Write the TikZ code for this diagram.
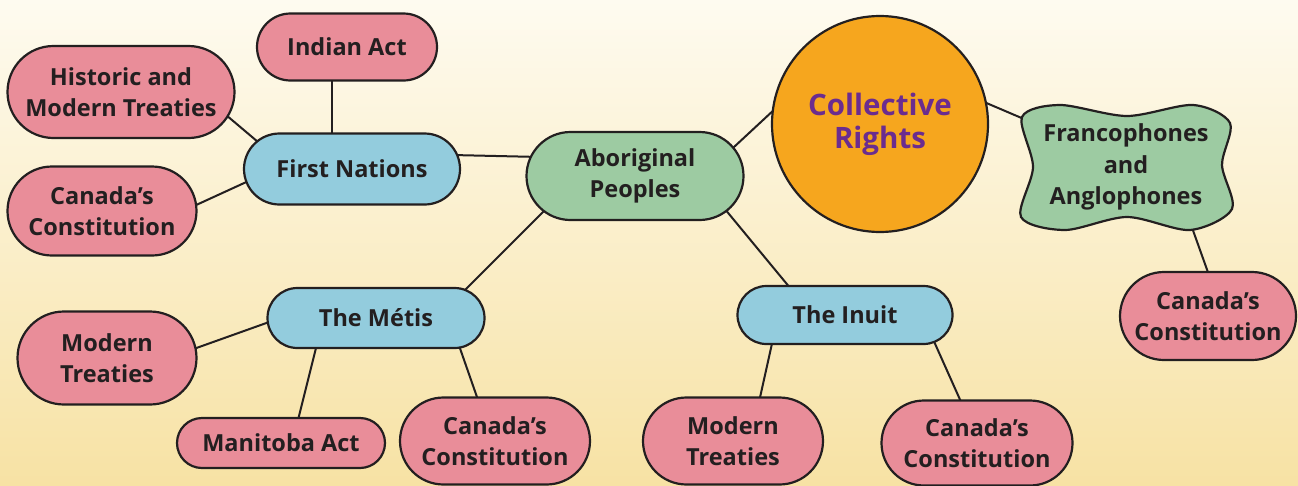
\documentclass[tikz,border=0pt]{standalone}
\usepackage{fontspec}
\setmainfont{Open Sans}
\usetikzlibrary{shapes.misc,backgrounds,calc,positioning}
\pgfdeclarelayer{edges}
\pgfsetlayers{background,edges,main}
\definecolor{inkdark}{HTML}{231F20}
\definecolor{boxpink}{HTML}{E98D99}
\definecolor{boxblue}{HTML}{93CCDD}
\definecolor{boxgreen}{HTML}{9DCBA2}
\definecolor{ballorange}{HTML}{F6A61E}
\definecolor{rightspurple}{HTML}{6B2C8F}
\definecolor{bgtop}{HTML}{FEFBF0}
\definecolor{bgbottom}{HTML}{F7E2A4}
\tikzset{
  lbl/.style={font=\bfseries\fontsize{23.5}{31.5}\selectfont, text=inkdark, align=center},
  pill/.style={lbl, rounded rectangle, draw=inkdark, line width=2.2pt, inner sep=0pt},
  pinkbox/.style={pill, fill=boxpink},
  bluebox/.style={pill, fill=boxblue},
  greenbox/.style={pill, fill=boxgreen},
  link/.style={draw=inkdark, line width=2pt}
}
\begin{document}
\begin{tikzpicture}[x=1pt,y=-1pt]
% Hintergrund mit Verlauf
\begin{pgfonlayer}{background}
  \shade[top color=bgtop, bottom color=bgbottom] (0,0) rectangle (1298,485);
\end{pgfonlayer}
\useasboundingbox (0,0) rectangle (1298,485);
% Mitte
\node[greenbox, minimum width=217pt, minimum height=88pt] (abor) at (635,176) {Aboriginal\\Peoples};
\node[circle, draw=inkdark, line width=2.2pt, fill=ballorange, minimum size=216pt,
      font=\bfseries\fontsize{29.5}{33}\selectfont, text=rightspurple, align=center] (coll) at (880,124) {Collective\\Rights};
% Gruppen
\node[bluebox, minimum width=216pt, minimum height=71pt] (firstnat) at (352,169) {First Nations};
\node[bluebox, minimum width=217pt, minimum height=60pt] (metis) at (376,318) {The Métis};
\node[bluebox, minimum width=215pt, minimum height=58pt] (inuit) at (845,315) {The Inuit};
% Francophones und Anglophones (gewellte Form)
\coordinate (fc) at (1126,167);
\draw[inkdark, line width=2.2pt, fill=boxgreen, shift={(fc)}]
  plot[smooth cycle, tension=0.5] coordinates {(-104,-50) (-66,-62) (1,-51) (67,-62) (104,-44) (96,-2)
    (106,42) (64,63) (1,50) (-61,63) (-105,50) (-93,0)};
\node[lbl] (franco) at (fc) {Francophones\\and\\Anglophones};
% Blätter
\node[pinkbox, minimum width=180pt, minimum height=67pt] (indian) at (347,47) {Indian Act};
\node[pinkbox, minimum width=227pt, minimum height=92pt] (histtreat) at (121,92) {Historic and\\Modern Treaties};
\node[pinkbox, minimum width=189pt, minimum height=89pt] (constfn) at (102,211) {Canada’s\\Constitution};
\node[pinkbox, minimum width=179pt, minimum height=93pt] (treatmet) at (107,358) {Modern\\Treaties};
\node[pinkbox, minimum width=208pt, minimum height=50pt] (manitoba) at (281,443) {Manitoba Act};
\node[pinkbox, minimum width=190pt, minimum height=87pt] (constmet) at (495,441) {Canada’s\\Constitution};
\node[pinkbox, minimum width=180pt, minimum height=87pt] (treatinu) at (733,441) {Modern\\Treaties};
\node[pinkbox, minimum width=191pt, minimum height=85pt] (constinu) at (977,443) {Canada’s\\Constitution};
\node[pinkbox, minimum width=176pt, minimum height=88pt] (constfr) at (1208,316) {Canada’s\\Constitution};
% Verbindungen
\begin{pgfonlayer}{edges}
  \draw[link] ($(indian)+(-15,20)$) -- ($(firstnat)+(-20,-20)$);
  \draw[link] ($(histtreat)+(79,1)$) -- ($(firstnat)+(-62,0)$);
  \draw[link] ($(constfn)+(68,6)$) -- ($(firstnat)+(-62,-7)$);
  \draw[link] ($(firstnat)+(100,-14)$) -- ($(abor)+(-95,-19)$);
  \draw[link] ($(abor)+(85,-16)$) -- ($(coll)+(-90,-29)$);
  \draw[link] ($(coll)+(90,-28)$) -- ($(franco)+(-81,-39)$);
  \draw[link] ($(franco)+(59,41)$) -- ($(constfr)+(7,-24)$);
  \draw[link] ($(abor)+(-65,9)$) -- ($(metis)+(74,-13)$);
  \draw[link] ($(abor)+(75,15)$) -- ($(inuit)+(-40,-9)$);
  \draw[link] ($(metis)+(-76,-7)$) -- ($(treatmet)+(53,3)$);
  \draw[link] ($(metis)+(-56,14)$) -- ($(manitoba)+(13,-7)$);
  \draw[link] ($(metis)+(79,16)$) -- ($(constmet)+(-10,-21)$);
  \draw[link] ($(inuit)+(-70,15)$) -- ($(treatinu)+(22,-21)$);
  \draw[link] ($(inuit)+(83,13)$) -- ($(constinu)+(-7,-21)$);
\end{pgfonlayer}
\end{tikzpicture}
\end{document}
